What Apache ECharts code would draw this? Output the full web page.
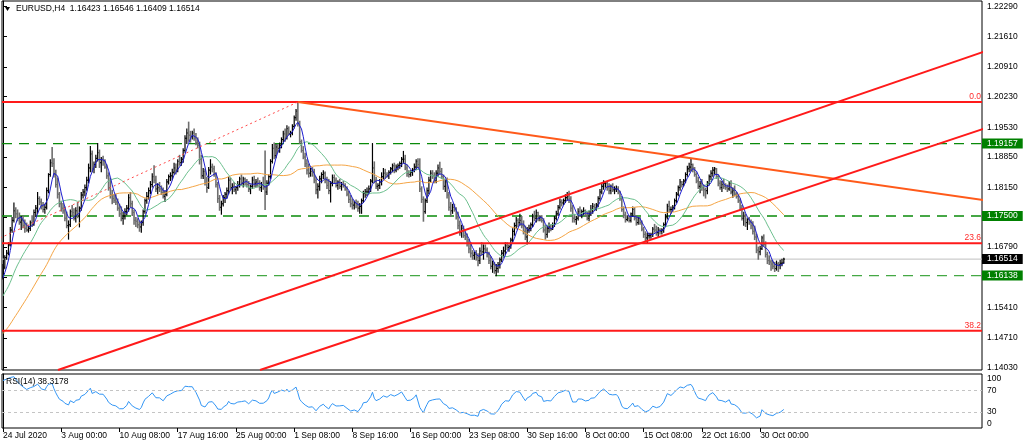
<!DOCTYPE html>
<html><head><meta charset="utf-8">
<script src="https://cdn.jsdelivr.net/npm/echarts@6/dist/echarts.min.js"></script>
<style>html,body{margin:0;padding:0;background:#fff}#c{width:1024px;height:447px}</style>
</head><body><div id="c"></div>
<script>
// ---------- texts ----------
const titleText = 'EURUSD,H4  1.16423 1.16546 1.16409 1.16514';
const rsiText = 'RSI(14) 38.3178';
const timeLabels = ['24 Jul 2020','3 Aug 00:00','10 Aug 08:00','17 Aug 16:00','25 Aug 00:00','1 Sep 08:00','8 Sep 16:00','16 Sep 00:00','23 Sep 08:00','30 Sep 16:00','8 Oct 00:00','15 Oct 08:00','22 Oct 16:00','30 Oct 00:00'];
const timeLabelBars = [0,32,64,96,128,160,192,224,256,288,320,352,384,416];
const priceTicks = [1.22290,1.21610,1.20910,1.20230,1.19530,1.18850,1.18150,1.17470,1.16790,1.16110,1.15410,1.14710,1.14030];
const rsiTicks = [0,30,70,100];

// ---------- H4 prices, in pips above 1.0000 ----------
// closes before the first visible bar (feed the moving averages / RSI)
const priorCloses = [1400,1405,1410,
 1412,1418,1425,1440,1430,1410,
 1405,1400,1395,1385,1380,1383,
 1385,1395,1410,1430,1428,1427,
 1430,1440,1435,1445,1450,1445,
 1450,1470,1490,1520,1525,1530,
 1525,1535,1545,1560,1575,1570,
 1568,1572,1575,1590,1595,1590,
 1595,1600,1605,1610];
const firstOpen = 1610;
const highs = [1640,1660,
 1672,1690,1725,1748,1781,1770, 1765,1758,1750,1752,1742,1735, 1728,1740,1752,1765,1775,1805, 1795,1790,1782,1778,1815,1848, 1880,1908,1882,1856,1838,1805,
 1785,1780,1772,1760,1740,1765, 1775,1768,1770,1782,1772,1805, 1812,1822,1840,1870,1910,1900, 1875,1890,1917,1902,1885,1888, 1880,1868,1850,1838,1810,1800,
 1800,1790,1778,1772,1760,1768, 1775,1800,1805,1785,1765,1748, 1745,1738,1740,1765,1790,1805, 1815,1830,1848,1866,1842,1825, 1828,1820,1815,1808,1835,1845,
 1850,1858,1872,1870,1880,1890, 1885,1905,1935,1950,1966,1945, 1945,1950,1940,1930,1920,1890, 1860,1858,1840,1862,1880,1870, 1865,1850,1828,1798,1785,1798,
 1805,1815,1840,1838,1825,1828, 1818,1830,1840,1845,1840,1838, 1835,1830,1822,1840,1842,1835, 1838,1832,1828,1840,1900,1832, 1845,1880,1915,1918,1915,1915,
 1918,1930,1945,1950,1958,1955, 1945,1960,1980,1995,2011,1968, 1925,1910,1895,1880,1870,1860, 1862,1858,1840,1825,1842,1850, 1855,1852,1840,1835,1830,1845,
 1845,1838,1832,1835,1828,1830, 1825,1818,1808,1798,1790,1785, 1788,1785,1780,1790,1808,1812, 1815,1820,1835,1917,1875,1840, 1825,1835,1850,1860,1858,1850,
 1855,1862,1870,1872,1868,1870, 1875,1885,1899,1890,1868,1855, 1855,1860,1870,1880,1882,1882, 1818,1795,1790,1815,1840,1855, 1855,1850,1855,1868,1874,1860,
 1845,1835,1838,1805,1782,1778, 1778,1770,1760,1740,1730,1728, 1715,1710,1698,1690,1672,1668, 1672,1665,1678,1690,1685,1685, 1678,1668,1658,1648,1645,1640,
 1645,1655,1672,1680,1690,1690, 1685,1700,1722,1735,1748,1745, 1755,1750,1740,1728,1725,1730, 1735,1755,1762,1765,1760,1752, 1752,1745,1730,1728,1735,1730,
 1735,1750,1762,1775,1790,1788, 1790,1800,1805,1808,1795,1775, 1755,1750,1768,1772,1765,1770, 1765,1760,1762,1775,1780,1778, 1780,1795,1812,1825,1832,1830,
 1828,1825,1822,1825,1818,1820, 1818,1808,1795,1772,1760,1752, 1752,1758,1772,1770,1752,1748, 1748,1740,1725,1715,1712,1712, 1712,1725,1732,1728,1725,1722,
 1722,1735,1755,1778,1785,1772, 1775,1790,1805,1820,1835,1830, 1835,1850,1865,1872,1883,1870, 1862,1850,1840,1830,1835,1822, 1815,1830,1845,1855,1862,1862,
 1860,1845,1832,1830,1835,1825, 1822,1830,1832,1815,1820,1805, 1800,1790,1775,1760,1755,1745, 1748,1742,1738,1728,1710,1680, 1682,1705,1708,1692,1668,1660,
 1650,1648,1645,1648,1645,1650, 1652,1654.6];
const lows = [1605,1628,
 1650,1660,1680,1712,1735,1745, 1738,1730,1718,1722,1712,1714, 1712,1716,1725,1728,1748,1755, 1775,1765,1758,1755,1765,1802, 1840,1862,1838,1815,1790,1770,
 1760,1755,1738,1722,1696,1725, 1750,1740,1735,1745,1724,1762, 1790,1795,1808,1825,1850,1850, 1848,1860,1875,1860,1850,1865, 1858,1835,1808,1790,1777,1780,
 1775,1762,1748,1738,1730,1742, 1752,1760,1770,1750,1730,1725, 1722,1714,1712,1728,1755,1778, 1788,1800,1815,1825,1805,1800, 1805,1798,1790,1782,1795,1822,
 1830,1832,1845,1845,1850,1865, 1865,1872,1895,1915,1920,1918, 1925,1922,1912,1905,1868,1835, 1835,1820,1803,1812,1845,1850, 1840,1815,1780,1762,1753,1772,
 1780,1790,1800,1810,1800,1805, 1800,1808,1815,1820,1815,1820, 1815,1805,1800,1812,1815,1815, 1815,1808,1805,1810,1764,1798, 1820,1835,1870,1880,1882,1895,
 1895,1905,1918,1920,1925,1935, 1930,1935,1950,1968,1955,1915, 1895,1880,1862,1845,1838,1840, 1840,1825,1800,1790,1808,1825, 1835,1825,1812,1800,1781,1818,
 1825,1815,1810,1812,1808,1815, 1808,1795,1780,1770,1765,1765, 1768,1760,1755,1755,1780,1792, 1795,1800,1805,1825,1825,1812, 1808,1812,1820,1835,1835,1838,
 1835,1845,1850,1848,1850,1855, 1858,1862,1870,1855,1840,1838, 1840,1842,1850,1855,1860,1805, 1780,1737,1755,1780,1800,1828, 1835,1825,1825,1840,1845,1835,
 1810,1805,1790,1762,1748,1755, 1760,1742,1720,1705,1700,1700, 1695,1680,1665,1655,1650,1650, 1648,1635,1640,1660,1650,1665, 1655,1640,1628,1620,1618,1612,
 1620,1630,1645,1655,1660,1672, 1668,1675,1690,1705,1720,1725, 1728,1722,1708,1695,1685,1712, 1715,1725,1738,1735,1738,1738, 1735,1712,1696,1700,1712,1715,
 1718,1725,1740,1750,1765,1772, 1775,1780,1785,1780,1760,1735, 1735,1730,1740,1748,1745,1752, 1748,1740,1738,1750,1755,1762, 1762,1770,1785,1800,1810,1815,
 1808,1800,1800,1805,1800,1805, 1800,1785,1760,1745,1735,1738, 1735,1735,1748,1740,1728,1730, 1730,1715,1700,1690,1688,1698, 1698,1702,1712,1705,1702,1708,
 1708,1712,1725,1742,1758,1755, 1760,1765,1780,1795,1808,1815, 1818,1825,1840,1850,1852,1850, 1840,1825,1812,1802,1808,1795, 1790,1800,1820,1832,1840,1845,
 1835,1818,1810,1805,1812,1810, 1805,1808,1800,1792,1795,1790, 1780,1762,1740,1728,1725,1718, 1730,1720,1708,1695,1665,1650, 1660,1672,1680,1655,1640,1638,
 1625,1628,1622,1625,1622,1628, 1635,1640.9];
const closes = [1633,1655,
 1665,1684,1718,1740,1762,1755, 1745,1736,1740,1728,1722,1718, 1722,1735,1730,1758,1768,1790, 1782,1772,1765,1770,1808,1845, 1872,1870,1845,1822,1800,1778,
 1768,1762,1745,1728,1730,1760, 1758,1745,1762,1750,1768,1798, 1805,1815,1832,1860,1892,1858, 1868,1882,1895,1872,1880,1875, 1862,1842,1815,1798,1790,1786,
 1782,1768,1755,1745,1750,1760, 1768,1792,1778,1758,1740,1738, 1730,1725,1735,1760,1785,1795, 1808,1822,1840,1832,1812,1815, 1812,1804,1795,1800,1828,1840,
 1842,1850,1860,1855,1875,1872, 1880,1900,1928,1940,1935,1932, 1940,1928,1918,1912,1880,1842, 1852,1825,1815,1855,1862,1858, 1845,1822,1790,1770,1778,1792,
 1800,1808,1832,1815,1818,1810, 1815,1822,1835,1825,1835,1830, 1822,1812,1818,1832,1825,1828, 1825,1815,1820,1815,1805,1825, 1840,1875,1905,1888,1908,1905,
 1912,1925,1938,1928,1950,1938, 1940,1955,1975,1990,1962,1920, 1900,1885,1870,1855,1848,1852, 1850,1832,1810,1818,1835,1845, 1848,1832,1820,1808,1825,1838,
 1832,1820,1828,1818,1822,1820, 1812,1800,1788,1778,1775,1780, 1775,1768,1772,1785,1802,1805, 1805,1812,1830,1860,1832,1818, 1820,1828,1840,1848,1845,1842,
 1850,1858,1865,1855,1862,1865, 1870,1880,1880,1860,1848,1845, 1850,1855,1862,1875,1868,1812, 1788,1760,1785,1808,1832,1848, 1842,1830,1848,1860,1852,1840,
 1818,1828,1798,1770,1762,1770, 1765,1748,1728,1712,1722,1705, 1702,1688,1675,1665,1660,1662, 1655,1648,1670,1668,1675,1672, 1662,1648,1635,1640,1625,1630,
 1638,1650,1665,1670,1682,1678, 1680,1695,1715,1728,1740,1735, 1740,1728,1715,1702,1718,1722, 1730,1748,1745,1758,1745,1748, 1740,1718,1708,1722,1725,1720,
 1730,1745,1755,1770,1782,1780, 1785,1792,1795,1790,1768,1745, 1742,1745,1760,1752,1760,1762, 1752,1745,1755,1765,1772,1768, 1775,1790,1805,1818,1825,1825,
 1815,1808,1818,1810,1812,1812, 1805,1790,1765,1752,1742,1745, 1740,1755,1765,1745,1735,1745, 1735,1720,1708,1700,1705,1705, 1708,1720,1718,1712,1718,1715,
 1718,1730,1748,1772,1765,1765, 1770,1785,1800,1815,1828,1822, 1830,1845,1858,1862,1868,1860, 1845,1830,1818,1825,1815,1810, 1808,1825,1840,1848,1855,1858,
 1840,1825,1815,1822,1818,1815, 1812,1825,1805,1808,1800,1795, 1785,1768,1745,1750,1735,1742, 1735,1728,1715,1702,1672,1668, 1675,1700,1685,1662,1648,1645,
 1640,1635,1630,1640,1638,1642, 1642.3,1651.4];

// ---------- drawn objects ----------
const fibLevels = [{name:'0.0', price:1.20110},{name:'23.6', price:1.16876},{name:'38.2', price:1.14876}];
const supportLevels = [{price:1.19157, color:'#0a8a0a'},{price:1.17500, color:'#0a8a0a'},{price:1.16138, color:'#45a845'}];
const bidPrice = 1.16514;
// trendline anchors: [bar index, price]
const trendOrange = [[162.1,1.20110],[540,1.17859]];
const trendUpper  = [[30.2,1.139765],[540,1.21277]];
const trendLower  = [[141.2,1.139765],[540,1.19513]];
const fibBase     = [[-1.65,1.16997],[162.1,1.20110]];

// ---------- build ----------
const P = v => 1 + v / 10000;
const allC = priorCloses.concat(closes);
const NP = priorCloses.length;
const bars = closes.map((c, i) => [i, P(i === 0 ? firstOpen : closes[i - 1]), P(highs[i]), P(lows[i]), P(c)]);
function sma(n) {
  return closes.map((_, i) => {
    const j = i + NP; let s = 0, k = 0;
    for (let t = j - n + 1; t <= j; t++) { if (t >= 0) { s += allC[t]; k++; } }
    return [i, P(s / k)];
  });
}
function rsi(n) {
  const out = []; let ag = 0, al = 0;
  for (let t = 1; t < allC.length; t++) {
    const d = allC[t] - allC[t - 1], g = Math.max(d, 0), l = Math.max(-d, 0);
    if (t <= n) { ag += g / n; al += l / n; } else { ag = (ag * (n - 1) + g) / n; al = (al * (n - 1) + l) / n; }
    const i = t - NP;
    if (i >= 0) out.push([i, al === 0 ? 100 : 100 - 100 / (1 + ag / al)]);
  }
  return out;
}
const FONT = 'Liberation Sans';
const FS = 8.5;
const XMIN = -0.55, XMAX = 537.9;

function renderBar(params, api) {
  const i = api.value(0), o = api.value(1), h = api.value(2), l = api.value(3), c = api.value(4);
  const top = api.coord([i, Math.max(h, o, c)]), bot = api.coord([i, Math.min(l, o, c)]);
  const po = api.coord([i, o]), pc = api.coord([i, c]);
  const x = top[0];
  const up = c >= o;
  const col = up ? '#000000' : '#6e6e6e';
  const w = up ? 1.2 : 1.6;
  return { type: 'group', children: [
    { type: 'line', shape: { x1: x, y1: top[1], x2: x, y2: bot[1] }, style: { stroke: col, lineWidth: w } },
    { type: 'line', shape: { x1: x - 1.2, y1: po[1], x2: x, y2: po[1] }, style: { stroke: col, lineWidth: 1 } },
    { type: 'line', shape: { x1: x, y1: pc[1], x2: x + 1.2, y2: pc[1] }, style: { stroke: col, lineWidth: 1 } }
  ]};
}

// horizontal level lines drawn as plain line series
const hSeries = (price, color, width, type, z) => ({
  type: 'line', xAxisIndex: 0, yAxisIndex: 0, data: [[XMIN, price], [XMAX, price]], showSymbol: false, symbol: 'none',
  clip: true, silent: true, lineStyle: { color, width, type }, z
});
// labels of the levels (marker lines themselves transparent)
const labelMarks = [];
fibLevels.forEach(f => labelMarks.push({
  yAxis: f.price,
  label: { show: true, position: 'insideEndTop', formatter: f.name, color: '#ff2a2a', fontSize: FS, fontFamily: FONT, distance: 1 }
}));
supportLevels.forEach(s => labelMarks.push({
  yAxis: s.price,
  label: { show: true, position: 'end', formatter: s.price.toFixed(5), color: '#ffffff', backgroundColor: '#008000', padding: [1, 5, 0, 5], fontSize: FS, fontFamily: FONT, distance: 0 }
}));
labelMarks.push({
  yAxis: bidPrice,
  label: { show: true, position: 'end', formatter: bidPrice.toFixed(5), color: '#ffffff', backgroundColor: '#000000', padding: [1, 5, 0, 5], fontSize: FS, fontFamily: FONT, distance: 0 }
});

const trendSeries = (data, color, width, type) => ({
  type: 'line', xAxisIndex: 0, yAxisIndex: 0, data, showSymbol: false, symbol: 'none', clip: true, silent: true,
  lineStyle: { color, width, type }, z: 6
});

const option = {
  animation: false,
  backgroundColor: '#fff',
  textStyle: { fontFamily: FONT },
  title: [
    { text: titleText, left: 16, top: 4, padding: 0, textStyle: { fontSize: FS, fontWeight: 'normal', fontFamily: FONT, color: '#000' } },
    { text: rsiText, left: 6, top: 377, padding: 0, textStyle: { fontSize: FS, fontWeight: 'normal', fontFamily: FONT, color: '#000' } }
  ],
  graphic: [{ type: 'polygon', shape: { points: [[5, 7], [10, 7], [7.5, 11]] }, style: { fill: '#000' } }],
  grid: [
    { left: 2, top: 1, width: 980, height: 369, show: true, borderColor: '#000', borderWidth: 1, backgroundColor: 'transparent' },
    { left: 2, top: 374, width: 980, height: 54, show: true, borderColor: '#000', borderWidth: 1, backgroundColor: 'transparent' }
  ],
  xAxis: [
    { type: 'value', gridIndex: 0, min: XMIN, max: XMAX, show: false },
    { type: 'value', gridIndex: 1, min: XMIN, max: XMAX,
      axisLine: { show: false },
      splitLine: { show: false },
      axisTick: { show: true, customValues: timeLabelBars, length: 4, lineStyle: { color: '#000' } },
      axisLabel: { show: true, customValues: timeLabelBars, formatter: v => timeLabels[timeLabelBars.indexOf(Math.round(v))] || '',
        align: 'left', margin: 3, fontSize: FS, fontFamily: FONT, color: '#000' } }
  ],
  yAxis: [
    { type: 'value', gridIndex: 0, position: 'right', min: 1.139765, max: 1.224204,
      axisLine: { show: true, lineStyle: { color: '#000' } },
      splitLine: { show: false },
      axisTick: { show: true, customValues: priceTicks, length: 4, lineStyle: { color: '#000' } },
      axisLabel: { show: true, customValues: priceTicks, formatter: v => v.toFixed(5), margin: 5, fontSize: FS, fontFamily: FONT, color: '#000' } },
    { type: 'value', gridIndex: 1, position: 'right', min: 0, max: 100,
      axisLine: { show: true, lineStyle: { color: '#000' } },
      splitLine: { show: false },
      axisTick: { show: false },
      axisLabel: { show: true, customValues: rsiTicks, margin: 5, fontSize: FS, fontFamily: FONT, color: '#000',
        verticalAlignMinLabel: 'bottom', verticalAlignMaxLabel: 'top' } }
  ],
  series: [
    hSeries(bidPrice, '#c0c0c0', 1, 'solid', 1),
    hSeries(supportLevels[0].price, supportLevels[0].color, 1.3, [10, 7], 2),
    hSeries(supportLevels[1].price, supportLevels[1].color, 1.3, [10, 7], 2),
    hSeries(supportLevels[2].price, supportLevels[2].color, 1.3, [10, 7], 2),
    { type: 'custom', xAxisIndex: 0, yAxisIndex: 0, data: bars, renderItem: renderBar, clip: true, silent: true, z: 3,
      encode: { x: 0, y: [1, 2, 3, 4] } },
    { type: 'line', xAxisIndex: 0, yAxisIndex: 0, data: sma(50), showSymbol: false, symbol: 'none', clip: true, silent: true, lineStyle: { color: '#f5a545', width: 1 }, z: 4 },
    { type: 'line', xAxisIndex: 0, yAxisIndex: 0, data: sma(21), showSymbol: false, symbol: 'none', clip: true, silent: true, lineStyle: { color: '#6cc08e', width: 1 }, z: 4 },
    { type: 'line', xAxisIndex: 0, yAxisIndex: 0, data: sma(5), showSymbol: false, symbol: 'none', clip: true, silent: true, lineStyle: { color: '#1c1cd0', width: 1 }, z: 4 },
    hSeries(fibLevels[0].price, '#ff1a1a', 2, 'solid', 5),
    hSeries(fibLevels[1].price, '#ff1a1a', 2, 'solid', 5),
    hSeries(fibLevels[2].price, '#ff1a1a', 2, 'solid', 5),
    trendSeries(trendOrange, '#ff5a1a', 2, 'solid'),
    trendSeries(trendUpper, '#ff1a1a', 2, 'solid'),
    trendSeries(trendLower, '#ff1a1a', 2, 'solid'),
    trendSeries(fibBase, '#ff4a4a', 1, [2, 3]),
    { type: 'line', xAxisIndex: 0, yAxisIndex: 0, data: [[XMIN, 1.18], [XMAX, 1.18]], silent: true, z: 7,
      showSymbol: false, symbol: 'none', lineStyle: { width: 0, color: 'rgba(0,0,0,0)' },
      markLine: { silent: true, symbol: 'none', animation: false, precision: 5,
        lineStyle: { width: 1, color: 'rgba(0,0,0,0)', type: 'solid' }, data: labelMarks } },
    { type: 'line', xAxisIndex: 1, yAxisIndex: 1, data: rsi(14), showSymbol: false, symbol: 'none', clip: true, silent: true,
      lineStyle: { color: '#3396f5', width: 1 },
      markLine: { silent: true, symbol: 'none', animation: false, label: { show: false },
        lineStyle: { color: '#c4c4c4', width: 1, type: [3, 3] }, data: [{ yAxis: 70 }, { yAxis: 30 }] } }
  ]
};
echarts.init(document.getElementById('c'), null, { renderer: 'canvas' }).setOption(option);
</script></body></html>
